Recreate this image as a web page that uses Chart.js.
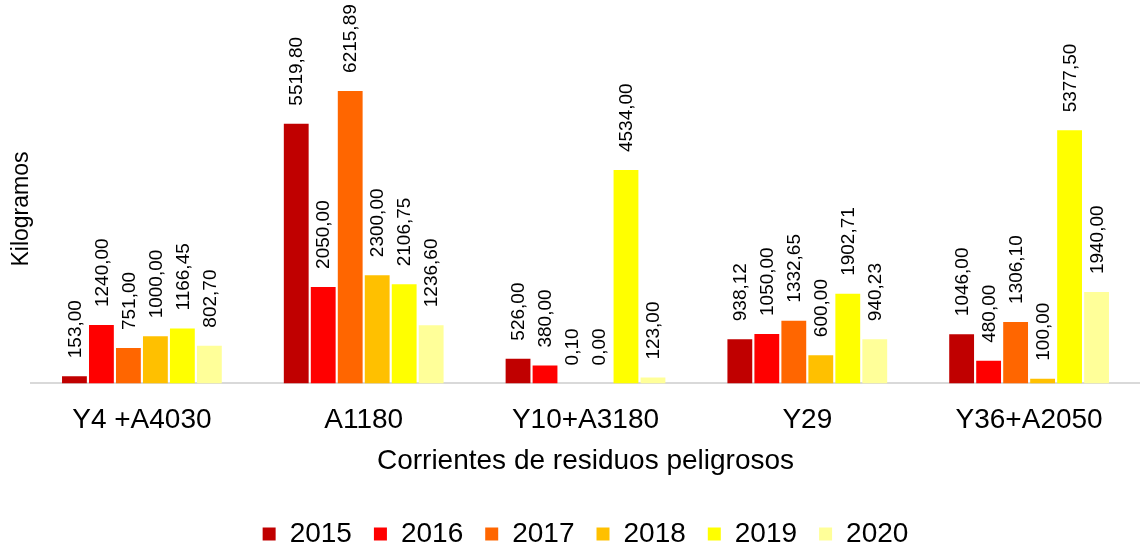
<!DOCTYPE html>
<html>
<head>
<meta charset="utf-8">
<script src="https://cdn.jsdelivr.net/npm/chart.js@4/dist/chart.umd.min.js"></script>
<style>
  html, body { margin: 0; padding: 0; background: #fff; }
  #wrap { width: 1140px; height: 546px; }
</style>
</head>
<body>
<div id="wrap"><canvas id="chart"></canvas></div>
<script>
const categories = ['Y4 +A4030', 'A1180', 'Y10+A3180', 'Y29', 'Y36+A2050'];
const years = ['2015', '2016', '2017', '2018', '2019', '2020'];
const v2015 = [153.00, 5519.80, 526.00, 938.12, 1046.00];
const v2016 = [1240.00, 2050.00, 380.00, 1050.00, 480.00];
const v2017 = [751.00, 6215.89, 0.10, 1332.65, 1306.10];
const v2018 = [1000.00, 2300.00, 0.00, 600.00, 100.00];
const v2019 = [1166.45, 2106.75, 4534.00, 1902.71, 5377.50];
const v2020 = [802.70, 1236.60, 123.00, 940.23, 1940.00];

const seriesValues = [v2015, v2016, v2017, v2018, v2019, v2020];
const colors = ['#C00000', '#FF0000', '#FF6600', '#FFC000', '#FFFF00', '#FFFF99'];
const FONT = "'Liberation Sans', Arial, sans-serif";

// etiquetas de valor giradas encima de cada barra
const barLabels = {
  id: 'barLabels',
  afterDatasetsDraw(chart) {
    const ctx = chart.ctx;
    ctx.save();
    ctx.font = '19px ' + FONT;
    ctx.fillStyle = '#000';
    ctx.textAlign = 'left';
    ctx.textBaseline = 'middle';
    chart.data.datasets.forEach((ds, i) => {
      chart.getDatasetMeta(i).data.forEach((bar, j) => {
        const txt = ds.data[j].toFixed(2).replace('.', ',');
        ctx.save();
        ctx.translate(bar.x + 1, bar.y - 18);
        ctx.rotate(-Math.PI / 2);
        ctx.fillText(txt, 0, 0);
        ctx.restore();
      });
    });
    ctx.restore();
  }
};

const yTitle = {
  id: 'yTitle',
  afterDraw(chart) {
    const ctx = chart.ctx;
    ctx.save();
    ctx.font = '23px ' + FONT;
    ctx.fillStyle = '#000';
    ctx.textAlign = 'center';
    ctx.textBaseline = 'middle';
    ctx.translate(22, 209);
    ctx.rotate(-Math.PI / 2);
    ctx.fillText('Kilogramos', 0, 0);
    ctx.restore();
  }
};

new Chart(document.getElementById('chart'), {
  type: 'bar',
  data: {
    labels: categories,
    datasets: years.map((y, i) => ({
      label: y,
      data: seriesValues[i],
      backgroundColor: colors[i],
      borderWidth: 0,
      categoryPercentage: 0.73,
      barPercentage: 0.92
    }))
  },
  options: {
    responsive: true,
    maintainAspectRatio: false,
    animation: false,
    layout: { padding: { top: 54, left: 31, right: 0, bottom: -12 } },
    plugins: {
      legend: {
        position: 'bottom',
        labels: {
          font: { size: 28, family: FONT },
          color: '#000',
          boxWidth: 13,
          boxHeight: 13,
          padding: 22
        }
      },
      tooltip: { enabled: false }
    },
    scales: {
      x: {
        grid: { display: false, drawTicks: false },
        border: { color: '#D9D9D9', width: 2 },
        ticks: { font: { size: 28, family: FONT, lineHeight: 1 }, color: '#000', padding: 23 },
        title: {
          display: true,
          text: 'Corrientes de residuos peligrosos',
          font: { size: 28, family: FONT },
          color: '#000',
          padding: { top: -13, bottom: 20 }
        }
      },
      y: {
        display: false,
        min: 0,
        max: 7000
      }
    }
  },
  plugins: [barLabels, yTitle]
});
</script>
</body>
</html>
